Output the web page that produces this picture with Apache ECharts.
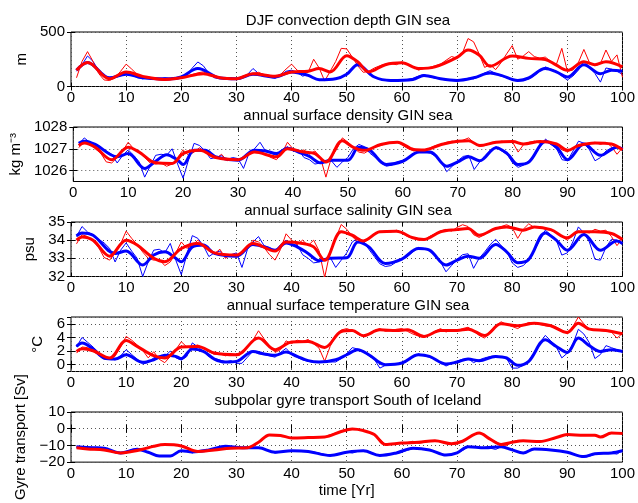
<!DOCTYPE html>
<html>
<head>
<meta charset="utf-8">
<script src="https://cdn.jsdelivr.net/npm/echarts@6.0.0/dist/echarts.min.js"></script>
<style>
  html, body { margin: 0; padding: 0; background: #fff; }
  #main { width: 638px; height: 503px; }
</style>
</head>
<body>
<div id="main"></div>
<script>
// yearly raw values (year 1..100), thin lines
const djfBlueRaw = [140,200,280,230,150,100,70,80,100,135,110,80,70,85,75,65,80,70,65,95,110,170,225,190,120,80,75,70,80,70,75,110,165,120,100,85,75,100,140,150,130,95,110,80,55,60,70,75,90,115,170,220,175,110,85,70,55,50,55,60,65,75,95,110,90,75,70,60,55,50,60,75,70,90,125,145,120,95,80,60,50,55,70,100,140,180,160,140,95,60,95,150,230,180,120,40,170,160,140,110]
const djfRedRaw = [80,230,320,230,120,60,55,80,140,205,160,110,90,80,70,60,55,60,75,90,95,110,125,135,110,90,80,75,70,72,80,100,120,130,110,95,90,110,160,205,150,120,130,250,170,50,140,230,350,345,270,190,130,140,170,190,205,210,200,225,205,180,150,165,175,190,205,240,275,260,310,440,410,300,175,200,155,220,300,375,250,280,320,275,260,270,230,200,350,140,150,220,340,220,190,210,335,230,290,85]
const densBlueRaw = [1027.2,1027.5,1027.3,1027.15,1027.0,1026.9,1026.75,1026.35,1026.7,1026.95,1026.7,1026.4,1025.7,1026.2,1026.7,1026.75,1026.7,1027.0,1026.3,1025.65,1026.5,1027.25,1027.15,1026.9,1026.55,1026.6,1026.7,1026.5,1026.6,1026.55,1026.1,1026.8,1027.0,1027.3,1026.9,1026.8,1026.7,1026.95,1027.1,1026.9,1026.95,1026.6,1026.5,1026.3,1026.35,1026.45,1026.45,1026.15,1026.4,1026.6,1027.0,1027.2,1027.1,1026.8,1026.6,1026.35,1026.2,1026.25,1026.4,1026.45,1026.55,1026.75,1026.9,1026.85,1026.8,1026.65,1026.4,1025.95,1026.2,1026.45,1026.65,1026.7,1026.05,1026.4,1026.7,1026.95,1027.1,1026.9,1026.75,1026.35,1026.15,1026.25,1026.45,1026.7,1027.1,1027.45,1027.2,1027.0,1026.5,1026.45,1026.9,1027.35,1027.25,1026.95,1026.45,1026.6,1026.9,1027.05,1027.1,1026.95]
const densRedRaw = [1027.05,1027.35,1027.3,1027.0,1026.8,1026.4,1026.35,1026.6,1026.9,1027.3,1027.0,1026.85,1026.6,1026.35,1026.3,1026.35,1026.2,1026.3,1026.6,1026.95,1026.7,1026.85,1027.05,1026.85,1026.65,1026.55,1026.75,1026.45,1026.55,1026.45,1026.6,1026.75,1026.95,1026.9,1026.75,1026.6,1026.5,1026.8,1027.3,1027.0,1026.85,1026.95,1026.75,1026.9,1026.6,1025.7,1026.6,1027.0,1027.5,1027.3,1027.05,1026.85,1026.8,1026.95,1027.1,1027.15,1027.25,1027.25,1027.3,1027.15,1027.0,1026.9,1026.95,1026.85,1027.05,1027.15,1027.2,1027.3,1027.35,1027.3,1027.4,1027.5,1027.25,1027.1,1027.15,1027.25,1027.3,1027.35,1027.3,1027.3,1026.85,1027.2,1027.3,1027.35,1027.25,1027.4,1027.2,1027.15,1026.95,1026.85,1027.05,1027.15,1027.2,1027.25,1027.3,1027.2,1027.3,1027.1,1026.75,1027.05]
const salBlueRaw = [34.2,34.75,34.45,34.3,34.05,33.85,33.55,32.8,33.45,33.85,33.4,33.0,32.0,32.8,33.45,33.5,33.3,33.82,32.9,32.1,33.2,34.25,34.1,33.7,33.1,33.3,33.4,33.05,33.2,33.3,32.5,33.5,33.9,34.2,33.7,33.6,33.4,33.75,34.0,33.7,33.75,33.2,33.0,32.75,32.8,32.95,33.05,32.5,32.9,33.3,33.9,34.1,33.95,33.5,33.1,32.7,32.55,32.6,32.8,32.95,33.1,33.35,33.6,33.55,33.45,33.2,32.8,32.26,32.6,32.95,33.2,33.25,32.45,33.0,33.35,33.75,34.05,33.7,33.4,32.75,32.5,32.6,32.9,33.4,34.0,34.55,34.3,34.0,33.18,33.3,33.9,34.73,34.4,33.9,32.95,32.9,33.6,34.05,34.0,33.75]
const salRedRaw = [33.8,34.3,34.2,33.95,33.6,33.05,32.9,33.3,33.8,34.5,34.1,33.75,33.35,33.0,32.9,32.95,32.6,32.8,33.3,33.9,33.55,33.7,34.0,33.7,33.4,33.25,33.5,33.0,33.2,33.05,33.3,33.6,34.0,33.9,33.6,33.2,32.9,33.5,34.35,34.0,33.75,34.0,33.7,34.0,33.4,31.95,33.4,34.1,34.86,34.6,34.2,33.9,33.85,34.05,34.35,34.45,34.5,34.45,34.55,34.4,34.2,34.1,34.0,34.0,34.2,34.35,34.5,34.6,34.5,34.7,34.85,34.75,34.3,34.15,34.3,34.5,34.65,34.75,34.85,34.7,34.1,34.6,34.9,34.7,34.75,34.6,34.55,34.4,34.2,34.0,34.3,34.5,34.45,34.4,34.6,34.5,34.55,34.2,33.7,34.1]
const tempBlueRaw = [2.6,4.0,3.3,2.6,1.8,1.2,0.9,0.7,1.3,2.2,1.5,0.8,0.1,0.3,1.0,1.3,1.2,2.0,1.0,0.7,1.2,3.2,2.6,2.0,1.2,0.9,0.7,0.4,0.6,0.2,0.2,1.1,2.0,1.6,1.5,1.3,1.1,1.8,2.4,1.5,1.1,0.7,0.5,0.3,0.3,0.5,0.4,0.4,0.9,1.6,2.5,2.3,1.9,1.3,0.8,-0.5,-0.1,0.0,0.1,0.3,0.6,1.1,1.6,1.3,1.1,0.8,0.4,-0.2,0.2,0.5,0.8,0.9,0.3,0.7,1.0,1.2,1.3,1.1,0.9,-0.5,-0.5,-0.1,0.6,1.8,3.2,4.3,3.5,2.6,1.0,1.7,3.0,5.2,4.5,3.2,0.9,1.5,2.8,2.5,2.2,1.8]
const tempRedRaw = [1.7,2.6,2.5,2.0,1.4,0.8,0.9,1.3,2.6,4.15,3.6,2.9,2.1,1.0,1.9,0.8,0.3,1.2,2.2,3.37,2.6,2.7,2.9,2.4,1.9,1.5,1.6,1.3,1.5,1.3,1.7,2.6,3.6,4.98,3.8,2.8,1.8,2.2,3.5,3.1,3.6,3.4,3.7,3.1,2.4,0.5,2.7,4.2,5.1,5.3,5.0,4.5,4.1,4.5,5.0,5.3,4.9,5.0,5.2,5.3,4.9,4.5,4.2,4.0,4.4,4.9,5.3,4.8,5.1,4.9,5.3,5.5,5.0,4.3,3.9,4.9,5.7,6.3,5.9,5.6,5.3,5.8,6.2,6.1,5.9,5.7,5.6,5.5,5.1,4.5,5.6,7.0,6.0,5.2,5.1,5.0,4.9,4.8,3.9,4.6]
const gyreBlueRaw = [-10.6,-11.0,-11.3,-11.5,-11.6,-11.5,-12.5,-13.8,-14.6,-13.9,-12.4,-12.1,-12.8,-14.2,-15.5,-16.4,-16.1,-16.5,-15.0,-13.0,-13.3,-14.5,-13.2,-12.8,-12.6,-12.2,-11.3,-10.2,-11.0,-11.3,-11.6,-11.6,-11.3,-11.2,-12.0,-13.2,-14.6,-14.0,-13.2,-13.0,-13.3,-13.6,-13.4,-13.9,-14.6,-15.4,-16.1,-15.5,-14.6,-13.8,-14.6,-13.6,-13.0,-13.6,-15.0,-16.2,-15.7,-15.0,-14.5,-13.9,-13.0,-11.9,-11.7,-12.2,-12.8,-13.8,-15.2,-15.8,-15.4,-14.7,-13.0,-11.0,-10.6,-11.5,-11.3,-11.6,-12.4,-10.8,-11.6,-12.6,-13.8,-14.9,-13.2,-12.0,-12.3,-12.6,-12.9,-13.1,-13.6,-14.3,-15.0,-16.0,-16.9,-16.5,-15.2,-14.8,-14.6,-14.7,-15.2,-13.0]
const gyreRedRaw = [-11.2,-11.8,-12.3,-12.5,-12.6,-12.9,-13.5,-14.3,-14.7,-14.4,-13.8,-13.0,-12.2,-11.2,-10.3,-9.9,-9.3,-9.8,-10.1,-10.0,-11.0,-12.8,-13.8,-13.2,-12.9,-12.6,-12.2,-11.8,-11.6,-11.5,-11.5,-11.3,-10.0,-7.8,-5.2,-3.8,-3.6,-4.0,-4.8,-5.6,-5.4,-5.3,-5.4,-5.2,-5.3,-4.8,-3.6,-2.6,-1.8,-1.0,-0.3,-0.5,-1.2,-2.2,-3.4,-6.0,-9.3,-9.2,-8.8,-8.5,-8.3,-7.5,-8.8,-8.2,-7.5,-7.0,-7.6,-8.5,-9.1,-8.8,-7.6,-5.8,-3.8,-2.5,-3.8,-6.0,-7.8,-9.5,-10.0,-8.0,-7.0,-7.1,-7.3,-7.5,-7.8,-7.2,-6.2,-5.3,-4.3,-3.4,-3.6,-3.9,-3.7,-3.5,-4.2,-5.2,-3.6,-2.8,-2.4,-3.0]

// smoothed curves, [year, value]
const djfBlueSmooth = [[1,149],[3,220],[7,80],[10,112],[13,80],[16,70],[18,70],[20,87],[23,165],[27,78],[30,71],[33,112],[37,87],[40,134],[43,102],[45,62],[48,71],[50,112],[52,200],[55,87],[58,56],[62,65],[64,102],[67,71],[70,56],[73,80],[76,124],[78,102],[81,56],[83,78],[86,165],[88,134],[90,87],[93,200],[96,118],[98,149],[100,140]]
const djfRedSmooth = [[1,149],[3,220],[7,71],[10,134],[13,93],[17,65],[20,80],[24,118],[27,80],[30,71],[33,118],[37,93],[40,134],[43,140],[45,165],[47,134],[50,283],[52,227],[54,134],[57,200],[60,217],[63,165],[66,180],[70,267],[72,335],[74,289],[76,186],[80,280],[83,258],[86,248],[88,196],[90,149],[93,227],[95,200],[97,227],[100,180]]
const densBlueSmooth = [[1,1027.25],[2,1027.35],[4,1027.2],[8,1026.63],[10,1026.78],[13,1026.1],[15,1026.43],[17,1026.73],[19,1026.48],[20,1026.28],[22,1026.93],[24,1026.93],[26,1026.63],[30,1026.48],[33,1026.93],[35,1026.9],[37,1026.78],[39,1027.03],[41,1026.85],[43,1026.65],[45,1026.36],[47,1026.48],[50,1026.48],[52,1027.07],[54,1026.93],[57,1026.28],[60,1026.43],[63,1026.85],[65,1026.85],[68,1026.2],[70,1026.4],[72,1026.63],[74,1026.45],[77,1027.05],[79,1026.78],[81,1026.28],[83,1026.4],[86,1027.33],[88,1027.07],[90,1026.5],[93,1027.22],[96,1026.7],[99,1027.07],[100,1027]]
const densRedSmooth = [[1,1027.15],[2,1027.27],[4,1027.07],[7,1026.5],[10,1027.07],[12,1026.85],[15,1026.36],[18,1026.33],[20,1026.78],[23,1026.93],[26,1026.6],[30,1026.5],[33,1026.85],[37,1026.63],[39,1027],[42,1026.85],[44,1026.78],[46,1026.4],[49,1027.37],[51,1027.07],[53,1026.93],[56,1027.2],[59,1027.3],[62,1026.97],[64,1026.95],[67,1027.2],[70,1027.35],[72,1027.37],[74,1027.15],[77,1027.3],[80,1027.33],[82,1027.22],[85,1027.33],[88,1027.22],[90,1026.93],[92,1027.15],[95,1027.27],[98,1027.22],[100,1026.95]]
const salBlueSmooth = [[1,34.24],[2,34.4],[4,34.27],[8,33.27],[10,33.4],[13,32.63],[15,33.18],[17,33.36],[19,33],[20,32.81],[22,33.63],[24,33.73],[26,33.27],[30,33.12],[33,33.76],[35,33.63],[37,33.45],[39,33.85],[41,33.63],[43,33.27],[45,32.87],[47,33],[50,33.03],[52,33.9],[54,33.63],[57,32.72],[60,32.96],[63,33.54],[65,33.45],[68,32.63],[70,32.9],[72,33.12],[74,33],[77,33.76],[79,33.36],[81,32.76],[83,32.94],[86,34.4],[88,34],[90,33.45],[93,34.31],[96,33.45],[99,33.95],[100,33.82]]
const salRedSmooth = [[1,34],[2,34.18],[4,34],[7,33.12],[10,34],[12,33.73],[15,33],[17,32.81],[20,33.54],[23,33.82],[26,33.3],[30,33.18],[33,33.82],[37,33.4],[39,33.9],[42,33.82],[44,33.63],[46,32.9],[49,34.46],[51,34.27],[53,33.96],[56,34.46],[59,34.49],[62,34.13],[64,34.04],[67,34.46],[70,34.58],[72,34.64],[74,34.27],[77,34.64],[79,34.73],[82,34.55],[84,34.73],[87,34.58],[90,34.13],[92,34.46],[95,34.46],[98,34.37],[100,34.04]]
const tempBlueSmooth = [[1,2.68],[2,3.17],[4,2.3],[6,0.98],[8,0.83],[10,1.46],[13,0.34],[15,0.73],[17,1.37],[19,1.22],[20,0.88],[22,2.3],[24,1.95],[26,0.83],[28,0.39],[30,0.49],[33,1.95],[35,1.56],[37,1.37],[39,1.85],[41,1.22],[43,0.59],[45,0.39],[48,0.73],[50,1.46],[52,2.2],[54,1.46],[57,0],[60,0.24],[63,1.46],[65,1.22],[68,0.1],[70,0.39],[72,0.83],[74,0.59],[77,1.22],[79,0.98],[81,-0.1],[83,0.49],[86,3.66],[88,2.68],[90,1.8],[92,3.9],[94,2.78],[96,1.95],[98,2.2],[100,1.95]]
const tempRedSmooth = [[1,1.95],[2,2.34],[4,2.05],[7,0.98],[10,3.56],[12,2.68],[15,1.32],[17,0.98],[20,2.59],[23,2.68],[26,1.71],[30,1.46],[34,3.9],[37,2.2],[40,3.32],[43,3.41],[46,2.54],[49,4.88],[51,5.02],[53,4.24],[56,5.12],[59,5.02],[61,5.12],[64,4.15],[67,5.02],[70,5.02],[72,5.22],[75,4.29],[78,6],[81,5.71],[84,6.1],[87,5.71],[90,4.73],[92,6.1],[94,5.22],[97,5.02],[100,4.54]]
const gyreBlueSmooth = [[1,-10.8],[4,-11.4],[6,-11.7],[9,-14.5],[12,-12.3],[14,-14.1],[16,-16.3],[18,-16.3],[20,-13.2],[22,-13.9],[25,-12.7],[28,-10.5],[31,-11.4],[34,-11.4],[37,-14.1],[40,-13.2],[43,-13.6],[47,-16],[50,-14.1],[53,-13.2],[56,-16],[59,-14.5],[62,-11.7],[65,-12.7],[68,-15.8],[70,-14.5],[72,-10.8],[75,-11.4],[78,-10.8],[80,-12.7],[82,-14.5],[84,-12.1],[87,-12.7],[90,-14.1],[93,-16.7],[95,-15],[98,-14.5],[100,-13.2]]
const gyreRedSmooth = [[1,-11.4],[3,-12.1],[6,-12.7],[9,-14.5],[11,-13.6],[13,-12.3],[15,-10.5],[17,-9.5],[20,-10.3],[23,-13.6],[26,-12.7],[29,-11.7],[32,-11.4],[34,-8.1],[36,-3.7],[38,-4],[40,-5.5],[43,-5.3],[46,-5],[49,-1.7],[51,-0.2],[53,-1.1],[55,-3.5],[57,-9.5],[60,-8.6],[63,-8.1],[66,-7.2],[69,-9],[71,-7.5],[74,-2.6],[76,-6.2],[78,-9.4],[80,-8.1],[82,-7.2],[85,-7.7],[88,-5.3],[90,-3.5],[93,-3.9],[95,-3.9],[96,-5],[98,-2.6],[100,-2.9]]

// y ticks: either a fixed list, or an automatic split count (temperature panel)
const panels = [
  { title: 'DJF convection depth GIN sea', unit: 'm', min: 0, max: 500, ticks: [0, 500], gap: 42,
    blueRaw: djfBlueRaw, redRaw: djfRedRaw, blue: djfBlueSmooth, red: djfRedSmooth },
  { title: 'annual surface density GIN sea', unit: 'kg m\u207B\u00B3', min: 1025.5, max: 1028, ticks: [1026, 1027, 1028], gap: 44,
    blueRaw: densBlueRaw, redRaw: densRedRaw, blue: densBlueSmooth, red: densRedSmooth },
  { title: 'annual surface salinity GIN sea', unit: 'psu', min: 32, max: 35, ticks: [32, 33, 34, 35], gap: 30,
    blueRaw: salBlueRaw, redRaw: salRedRaw, blue: salBlueSmooth, red: salRedSmooth },
  { title: 'annual surface temperature GIN sea', unit: '\u00B0C', min: -1, max: 7, split: 4, gap: 25,
    blueRaw: tempBlueRaw, redRaw: tempRedRaw, blue: tempBlueSmooth, red: tempRedSmooth },
  { title: 'subpolar gyre transport South of Iceland', unit: 'Gyre transport [Sv]', min: -20, max: 10, ticks: [-20, -10, 0, 10], gap: 36,
    blueRaw: gyreBlueRaw, redRaw: gyreRedRaw, blue: gyreBlueSmooth, red: gyreRedSmooth }
]

const font = 'Liberation Sans, Arial, Helvetica, sans-serif'
const tops = [32, 127, 222, 317, 412]
const plotH = 54.5
const dotted = { color: '#555', type: [1, 3], width: 1 }

function fmt(v) {
  return v < 0 ? '\u2212' + (-v) : String(v)
}
function toPairs(arr) {
  return arr.map((v, i) => [i + 1, v])
}

const grid = [], xAxis = [], yAxis = [], series = [], title = []
panels.forEach((p, i) => {
  grid.push({ left: 71, right: 13, top: tops[i], height: plotH, show: true, borderColor: '#000', borderWidth: 1 })
  title.push({
    text: p.title, left: 348, top: tops[i] - 19, textAlign: 'center', padding: 0,
    textStyle: { fontFamily: font, fontSize: 15, fontWeight: 'normal', color: '#000' }
  })
  // bottom x axis with labels, top x axis only for the inward ticks
  xAxis.push({
    type: 'value', gridIndex: i, min: 0, max: 100, interval: 10,
    axisLine: { show: false },
    axisTick: { inside: true, length: 4, lineStyle: { color: '#000' } },
    axisLabel: { fontFamily: font, fontSize: 15, color: '#000', margin: 4 },
    splitLine: { show: true, lineStyle: dotted },
    name: i === 4 ? 'time [Yr]' : '', nameLocation: 'middle', nameGap: 21,
    nameTextStyle: { fontFamily: font, fontSize: 15, color: '#000' }
  })
  xAxis.push({
    type: 'value', gridIndex: i, min: 0, max: 100, interval: 10, position: 'top',
    axisLine: { show: false }, axisLabel: { show: false }, splitLine: { show: false },
    axisTick: { inside: true, length: 4, lineStyle: { color: '#000' } }
  })
  const tick = { inside: true, length: 4, lineStyle: { color: '#000' } }
  const label = { fontFamily: font, fontSize: 15, color: '#000', margin: 6, formatter: fmt }
  if (p.ticks) {
    tick.customValues = p.ticks
    label.customValues = p.ticks
  } else {
    label.showMinLabel = false
    label.showMaxLabel = false
  }
  yAxis.push({
    type: 'value', gridIndex: i, min: p.min, max: p.max, splitNumber: p.split || 5,
    axisLine: { show: false },
    axisTick: tick,
    axisLabel: label,
    splitLine: { show: true, lineStyle: dotted },
    name: p.unit, nameLocation: 'middle', nameRotate: 90, nameGap: p.gap,
    nameTextStyle: { fontFamily: font, fontSize: 15, color: '#000' }
  })
  yAxis.push({
    type: 'value', gridIndex: i, min: p.min, max: p.max, splitNumber: p.split || 5, position: 'right',
    axisLine: { show: false }, axisTick: tick,
    axisLabel: { show: false }, splitLine: { show: false }
  })

  const xi = i * 2, yi = i * 2
  const line = (data, color, width, smooth) => ({
    type: 'line', xAxisIndex: xi, yAxisIndex: yi, data, symbol: 'none', smooth,
    lineStyle: { color, width }, itemStyle: { color }, clip: true, silent: true
  })
  series.push(line(toPairs(p.blueRaw), '#0000ff', 1, false))
  series.push(line(toPairs(p.redRaw), '#ff0000', 1, false))
  series.push(line(p.blue, '#0000ff', 3, 0.35))
  series.push(line(p.red, '#ff0000', 3, 0.35))
})

const myChart = echarts.init(document.getElementById('main'))
myChart.setOption({
  animation: false,
  backgroundColor: '#fff',
  title, grid, xAxis, yAxis, series
})
</script>
</body>
</html>
